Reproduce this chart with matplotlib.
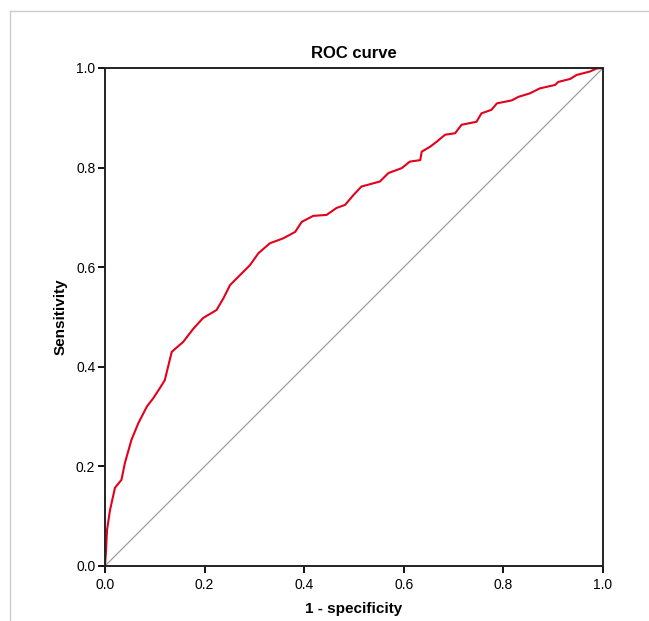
import matplotlib
matplotlib.use("Agg")
import matplotlib.pyplot as plt
from matplotlib.lines import Line2D

plt.rcParams['font.family'] = ['Liberation Sans', 'DejaVu Sans']

fpr = [0.0, 0.002, 0.004, 0.01, 0.02, 0.033, 0.040, 0.053, 0.067, 0.084, 0.097,
       0.11, 0.12, 0.134, 0.157, 0.177, 0.197, 0.224, 0.238, 0.251, 0.271,
       0.291, 0.308, 0.331, 0.358, 0.382, 0.395, 0.418, 0.445, 0.465, 0.482,
       0.499, 0.515, 0.552, 0.569, 0.596, 0.612, 0.633, 0.636, 0.653, 0.666,
       0.683, 0.703, 0.716, 0.746, 0.756, 0.776, 0.787, 0.817, 0.83, 0.853,
       0.873, 0.904, 0.91, 0.934, 0.947, 0.974, 0.987, 1.0]
tpr = [0.0, 0.03, 0.072, 0.112, 0.157, 0.173, 0.207, 0.253, 0.287, 0.32, 0.337,
       0.357, 0.373, 0.43, 0.45, 0.476, 0.498, 0.514, 0.538, 0.564, 0.584,
       0.604, 0.628, 0.648, 0.658, 0.671, 0.691, 0.703, 0.705, 0.719, 0.725,
       0.745, 0.762, 0.772, 0.789, 0.799, 0.812, 0.815, 0.832, 0.842, 0.852,
       0.866, 0.869, 0.886, 0.892, 0.909, 0.916, 0.929, 0.935, 0.942, 0.949,
       0.959, 0.966, 0.972, 0.978, 0.986, 0.993, 0.999, 1.0]
ticks = [0.0, 0.2, 0.4, 0.6, 0.8, 1.0]
tick_labels = ["0.0", "0.2", "0.4", "0.6", "0.8", "1.0"]

fig = plt.figure(figsize=(6.49, 6.21), dpi=100)
ax = fig.add_axes([0.1618, 0.0886, 0.7673, 0.8019])

ax.plot([0, 1], [0, 1], color='#a0a0a0', lw=0.9, zorder=1)
ax.plot(fpr, tpr, color='#e3001b', lw=1.5, zorder=2)

ax.set_xlim(0, 1)
ax.set_ylim(0, 1)
ax.set_xticks(ticks)
ax.set_xticklabels(tick_labels)
ax.set_yticks(ticks)
ax.set_yticklabels(tick_labels)
ax.tick_params(direction='out', length=5, width=1.3, labelsize=10, colors='black', pad=2)
ax.tick_params(axis='x', pad=4)
for s in ax.spines.values():
    s.set_linewidth(1.4)
    s.set_color('#222222')

ax.set_title("ROC curve", fontsize=12, fontweight='bold', pad=7)
ax.set_xlabel("1 - specificity", fontsize=11, fontweight='bold', labelpad=7)
ax.set_ylabel("Sensitivity", fontsize=11, fontweight='bold', labelpad=6)

# outer light frame lines
fig.add_artist(Line2D([10/649, 1], [1-11/621, 1-11/621], color='#cccccc', lw=1.0, transform=fig.transFigure))
fig.add_artist(Line2D([10/649, 10/649], [0, 1-11/621], color='#cccccc', lw=1.0, transform=fig.transFigure))

fig.savefig("out.png", dpi=100)
